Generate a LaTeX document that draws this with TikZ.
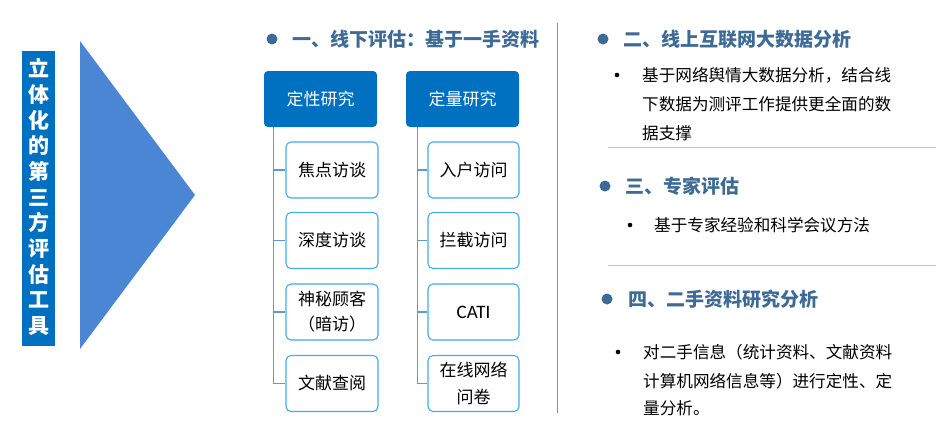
\documentclass[tikz,border=0pt]{standalone}
\usepackage{fontspec}
\setmainfont{Noto Sans CJK SC}
\newfontfamily\latfont{Carlito}
\lineskiplimit=-100pt
\definecolor{boxblue}{RGB}{0,112,192}
\definecolor{triblue}{RGB}{74,134,212}
\definecolor{headblue}{RGB}{62,106,150}
\definecolor{kidline}{RGB}{64,172,236}
\definecolor{treeline}{RGB}{91,155,213}
\definecolor{sepgray}{RGB}{140,140,140}
\definecolor{rulegray}{RGB}{195,195,195}
\tikzset{
  topbox/.style={fill=boxblue, rounded corners=4pt, minimum width=113pt, minimum height=56pt,
    text=white, font=\fontsize{17}{20}\selectfont, inner sep=0pt},
  kidbox/.style={draw=kidline, line width=1.1pt, fill=white, rounded corners=5pt,
    minimum height=56pt, inner sep=0pt, align=center, text=black,
    font=\fontsize{17}{25}\selectfont},
  trunk/.style={draw=treeline, line width=1.1pt},
  header/.style={anchor=west, text=headblue, inner sep=0pt, font=\fontsize{19}{22}\selectfont\bfseries},
  body/.style={anchor=west, text=black, inner sep=0pt, font=\fontsize{16.6}{20}\selectfont},
  bigdot/.style={circle, fill=headblue, minimum size=11pt, inner sep=0pt},
  smalldot/.style={circle, fill=black, minimum size=4.6pt, inner sep=0pt},
  hrule/.style={draw=rulegray, line width=0.9pt},
}
\begin{document}
\begin{tikzpicture}[x=1pt,y=-1pt]
\useasboundingbox (0,0) rectangle (952,445);
% left banner
\fill[boxblue] (22,51) rectangle (55,346);
\node[text=white, align=center, inner sep=0pt,
  font=\fontsize{21}{25.7}\selectfont\bfseries] (title) at (38.5,197)
  {立\\体\\化\\的\\第\\三\\方\\评\\估\\工\\具};
% triangle
\fill[triblue] (80,41) -- (195,195) -- (80,349) -- cycle;

% section 1
\node[bigdot] (d1) at (272,39) {};
\node[header] (h1) at (292,39) {一、线下评估：基于一手资料};
\node[topbox] (qual) at (320.5,99) {定性研究};
\node[topbox] (quant) at (462.5,99) {定量研究};

\node[kidbox, minimum width=92pt] (a1) at (332,170) {焦点访谈};
\node[kidbox, minimum width=92pt] (a2) at (332,240.5) {深度访谈};
\node[kidbox, minimum width=92pt] (a3) at (332,312) {神秘顾客\\（暗访）};
\node[kidbox, minimum width=92pt] (a4) at (332,383.5) {文献查阅};

\node[kidbox, minimum width=91pt] (b1) at (473.5,170) {入户访问};
\node[kidbox, minimum width=91pt] (b2) at (473.5,240.5) {拦截访问};
\node[kidbox, minimum width=91pt] (b3) at (473.5,312) {\latfont\fontsize{19}{22}\selectfont CATI};
\node[kidbox, minimum width=91pt, font=\fontsize{17}{27}\selectfont] (b4) at (473.5,383.5) {在线网络\\问卷};

\coordinate (qtop) at ([xshift=10pt]qual.south west);
\coordinate (ntop) at ([xshift=12pt]quant.south west);
\draw[trunk] (qtop) |- (a4.west);
\foreach \k in {a1,a2,a3} \draw[trunk] (\k.west -| qtop) -- (\k.west);
\draw[trunk] (ntop) |- (b4.west);
\foreach \k in {b1,b2,b3} \draw[trunk] (\k.west -| ntop) -- (\k.west);

% separator
\coordinate (sepT) at (557,23);
\coordinate (sepB) at (557,413);
\draw[sepgray, line width=1pt] (sepT) -- (sepB);

% section 2
\node[bigdot] (d2) at (603,39) {};
\node[header] (h2) at (623,39) {二、线上互联网大数据分析};
\node[smalldot] (s2) at (617,75) {};
\node[body] (t2a) at (642,75) {基于网络舆情大数据分析，结合线};
\node[body] (t2b) at (642,104.5) {下数据为测评工作提供更全面的数};
\node[body] (t2c) at (642,133) {据支撑};
\coordinate (r1a) at (608,147);
\coordinate (r1b) at (936,147);
\draw[hrule] (r1a) -- (r1b);

% section 3
\node[bigdot] (d3) at (605,186) {};
\node[header] (h3) at (625,186) {三、专家评估};
\node[smalldot] (s3) at (630,225) {};
\node[body] (t3a) at (654,225) {基于专家经验和科学会议方法};
\coordinate (r2a) at (608,265);
\coordinate (r2b) at (936,265);
\draw[hrule] (r2a) -- (r2b);

% section 4
\node[bigdot] (d4) at (607,299) {};
\node[header] (h4) at (628,299) {四、二手资料研究分析};
\node[smalldot] (s4) at (618,352) {};
\node[body] (t4a) at (643,352) {对二手信息（统计资料、文献资料};
\node[body] (t4b) at (643,381) {计算机网络信息等）进行定性、定};
\node[body] (t4c) at (643,408) {量分析。};
\end{tikzpicture}
\end{document}
